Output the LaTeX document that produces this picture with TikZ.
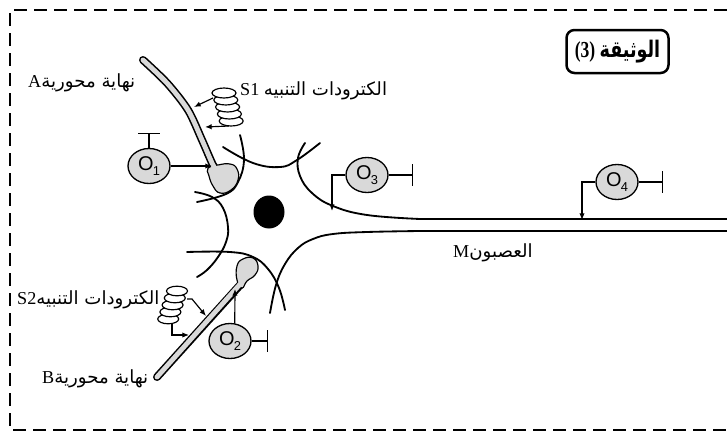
\documentclass[tikz,border=0pt]{standalone}
\usepackage{fontspec}
\setmainfont{Liberation Serif}
\newfontfamily\arabicfont[Script=Arabic]{DejaVu Sans}
\newfontfamily\labelfont{Liberation Sans}
\TeXXeTstate=1
\usetikzlibrary{arrows.meta,shapes.geometric}
\newcommand\osub[1]{O\kern-0.04em\raisebox{-0.45ex}{\fontsize{11}{11}\selectfont #1}}
\begin{document}
\begin{tikzpicture}[x=0.3mm,y=-0.3mm,
  frame/.style={line width=0.75mm, dash pattern=on 4mm off 2mm},
  membrane/.style={line width=0.55mm, line cap=round},
  organ/.style={ellipse, draw, line width=0.4mm, fill=gray!30,
    minimum width=12.6mm, minimum height=10.5mm, inner sep=0pt,
    font=\labelfont\fontsize{17}{17}\selectfont},
  link/.style={line width=0.35mm},
  stim/.style={link, -{Latex[length=2mm,width=1.6mm]}},
  block/.style={link, -{Bar[width=6.6mm]}},
  lbl/.style={anchor=base west, inner sep=0pt, font=\fontsize{15.5}{18}\selectfont},
  coilloop/.style={draw, line width=0.35mm, fill=white},
  stalkout/.style={line width=2.4mm, line cap=round},
  stalkin/.style={line width=1.45mm, line cap=round, gray!30},
  bulb/.style={draw, line width=0.35mm, fill=gray!30}
]
\useasboundingbox (0,0) rectangle (727,439);

% dashed frame, open on the right
\draw[frame] (727,10) -- (10,10) -- (10,430) -- (727,430);

% cell body membranes
\draw[membrane] plot[smooth,tension=0.7] coordinates {(240,135) (244,160) (238,182) (226,194) (197,202)};
\draw[membrane] plot[smooth,tension=0.7] coordinates {(195,192) (212,197) (223,208) (228,227) (226,242) (218,257) (207,270) (197,277)};
\draw[membrane] plot[smooth,tension=0.7] coordinates {(223,147) (253,163) (280,167) (297,160) (320,143)};
\draw[membrane] plot[smooth,tension=0.7] coordinates {(187,252) (230,252) (253,257) (268,269) (279,288) (285,310)};

% axon M
\draw[membrane] plot[smooth,tension=0.7] coordinates {(305,143) (298,158) (300,176) (312,193) (333,206) (367,215) (420,219)} -- (727,219);
\draw[membrane] plot[smooth,tension=0.7] coordinates {(270,313) (276,285) (285,264) (298,248) (313,239) (333,234) (367,232) (420,231)} -- (727,231);

% nucleus
\node[ellipse, fill=black, minimum width=9.3mm, minimum height=9.9mm, inner sep=0pt] (nucleus) at (269,212) {};

% axon terminal A
\draw[stalkout] plot[smooth] coordinates {(143,60) (167,83) (188,110) (202,140) (213,165) (220,175)};
\draw[bulb] plot[smooth cycle,tension=0.8] coordinates {(208,168) (218,165) (230,164) (237,169) (238,180) (231,190) (220,193) (213,186) (209,176)};
\draw[stalkin] plot[smooth] coordinates {(143,60) (167,83) (188,110) (202,140) (213,165) (220,175)};

% axon terminal B
\draw[stalkout] (157,377) -- (241,284);
\draw[bulb] plot[smooth cycle,tension=0.8] coordinates {(237,266) (243,259) (253,258) (258,266) (255,275) (247,281) (242,288) (237,280)};
\draw[stalkin] (157,377) -- (242,282);

% stimulating electrodes S1 (coil leaning to the right)
\foreach \i in {4,3,2,1,0}
  \draw[coilloop] ({224+1.8*\i},{93+7*\i}) ellipse [x radius=12, y radius=5];
\coordinate (s1p) at (213,98);
\coordinate (s1q) at (229,126);
\coordinate (s1pt) at (194,107);
\coordinate (s1qt) at (205,127);
\draw[stim] (s1p) -- (s1pt);
\draw[stim] (s1q) -- (s1qt);

% stimulating electrodes S2 (coil leaning to the left)
\foreach \i in {4,3,2,1,0}
  \draw[coilloop] ({177-2.2*\i},{291+7*\i}) ellipse [x radius=10.5, y radius=4.8];
\coordinate (s2p) at (187,299);
\coordinate (s2k) at (192,299);
\coordinate (s2q) at (172,324);
\coordinate (s2pt) at (206,316);
\coordinate (s2qt) at (189,335);
\draw[stim] (s2p) -- (s2k) -- (s2pt);
\draw[stim] (s2q) |- (s2qt);

% neurons O1 .. O4
\node[organ] (o1) at (149,166) {\osub{1}};
\node[organ] (o2) at (230,341) {\osub{2}};
\node[organ] (o3) at (367,175) {\osub{3}};
\node[organ] (o4) at (617,182) {\osub{4}};

\coordinate (o1t) at (212,166);
\coordinate (o2t) at (235,289);
\coordinate (o3t) at (332,211);
\coordinate (o4t) at (582,220);
\draw[stim] (o1.east) -- (o1t);
\draw[stim] (o2.75) -- (o2t);
\draw[stim] (o3.west) -| (o3t);
\draw[stim] (o4.west) -| (o4t);

\coordinate (o1b) at (149,133);
\coordinate (o2b) at (268,341);
\coordinate (o3b) at (413,175);
\coordinate (o4b) at (663,182);
\draw[block] (o1.north) -- (o1b);
\draw[block] (o2.east) -- (o2b);
\draw[block] (o3.east) -- (o3b);
\draw[block] (o4.east) -- (o4b);

% labels
\node[lbl] (labA) at (28,87) {A\arabicfont\beginR نهاية محورية\endR};
\node[lbl] (labS1) at (240,95) {S1 \arabicfont\beginR الكترودات التنبيه\endR};
\node[lbl] (labS2) at (17,304) {S2\arabicfont\beginR الكترودات التنبيه\endR};
\node[lbl] (labB) at (42,383) {B\arabicfont\beginR نهاية محورية\endR};
\node[lbl] (labM) at (453,257) {M\arabicfont\beginR العصبون\endR};

% document title
\node[draw, rounded corners=2.4mm, line width=0.75mm, minimum width=30.6mm, minimum height=12.9mm,
  inner sep=0pt, font=\bfseries\fontsize{17}{20}\selectfont] (title) at (617.5,51.5)
  {\scalebox{0.88}[1.15]{(3) \arabicfont\bfseries\beginR الوثيقة\endR}};
\end{tikzpicture}
\end{document}
